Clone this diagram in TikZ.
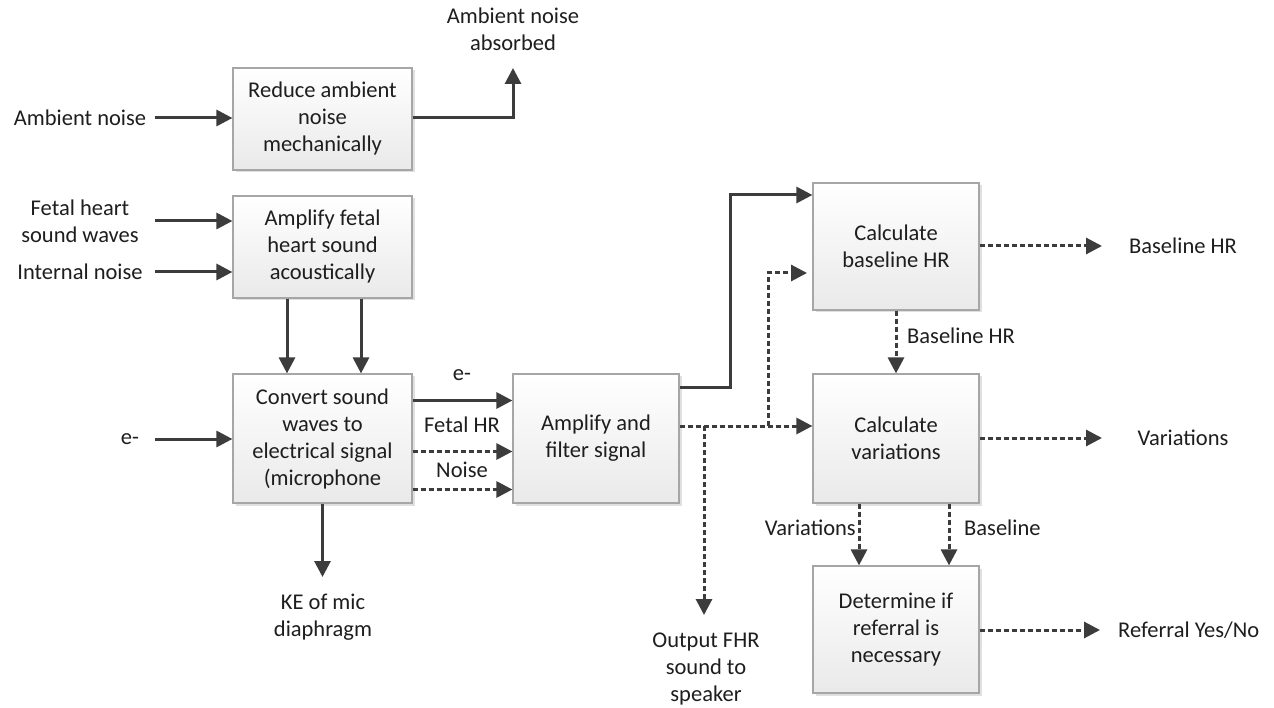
\documentclass[tikz,border=0pt]{standalone}
\usepackage{fontspec}
\setmainfont{Carlito}
\usetikzlibrary{arrows.meta,shadows}
\definecolor{ln}{HTML}{3C3C3C}
\definecolor{bd}{HTML}{A6A6A6}
\definecolor{tx}{HTML}{1E1E1E}
\begin{document}
\begin{tikzpicture}[x=1pt,y=-1pt,
  every node/.style={font=\fontsize{22.5}{27}\selectfont, text=tx},
  box/.style={draw=bd, line width=1.2pt, top color=white, bottom color=gray!17, align=center, inner sep=2pt,
    drop shadow={shadow xshift=2.5pt,shadow yshift=-2.5pt,fill=black,opacity=0.12}},
  lbl/.style={align=center, inner sep=1pt},
  arr/.style={draw=ln, line width=3pt, -{Triangle[length=16pt,width=16pt]}},
  darr/.style={arr, dash pattern=on 5pt off 3pt},
]
\useasboundingbox[fill=white] (0,0) rectangle (1274,708);

% boxes
\node[box, minimum width=179pt, minimum height=102pt] (b1) at (322.5,119) {Reduce ambient\\noise\\mechanically};
\node[box, minimum width=179pt, minimum height=102pt] (b2) at (322.5,247) {Amplify fetal\\heart sound\\acoustically};
\node[box, minimum width=179pt, minimum height=129pt] (b3) at (322.5,438.5) {Convert sound\\waves to\\electrical signal\\(microphone};
\node[box, minimum width=166pt, minimum height=129pt] (b4) at (596,438.5) {Amplify and\\filter signal};
\node[box, minimum width=166pt, minimum height=127pt] (b5) at (896,246.5) {Calculate\\baseline HR};
\node[box, minimum width=166pt, minimum height=129pt] (b6) at (896,438.5) {Calculate\\variations};
\node[box, minimum width=166pt, minimum height=127pt] (b7) at (896,629.5) {Determine if\\referral is\\necessary};

% labels
\node[lbl] (lAmb) at (80,118) {Ambient noise};
\node[lbl] (lFetal) at (80,221.5) {Fetal heart\\sound waves};
\node[lbl] (lInt) at (80,272) {Internal noise};
\node[lbl] (lE) at (130,439) {e-};
\node[lbl] (lAbs) at (513,29.5) {Ambient noise\\absorbed};
\node[lbl] (lKE) at (323,617) {KE of mic\\diaphragm};
\node[lbl] (lOut) at (706,669) {Output FHR\\sound to\\speaker};
\node[lbl] (lBHR) at (1183,246) {Baseline HR};
\node[lbl] (lVar) at (1183,438) {Variations};
\node[lbl, anchor=west] (lRef) at (1117,630) {Referral Yes/No};
\node[lbl] (lEm) at (462,375) {e-};
\node[lbl] (lFHR) at (462,425) {Fetal HR};
\node[lbl] (lNoise) at (462,470) {Noise};
\node[lbl, anchor=east] (lVar2) at (857,528) {Variations};
\node[lbl, anchor=west] (lBase) at (963,528) {Baseline};
\node[lbl, anchor=west] (lBHR2) at (906,336) {Baseline HR};

% coordinates
\coordinate (sAmb) at (155,118);
\coordinate (sFetal) at (155,221);
\coordinate (sInt) at (155,272);
\coordinate (sE) at (155,439);
\coordinate (tAbs) at (513,68);
\coordinate (tKE) at (322.5,577);
\coordinate (jS) at (730,387);
\coordinate (jD) at (700,426);
\coordinate (jUp) at (768,426);
\coordinate (jDown) at (704,426);
\coordinate (tB5) at (807,273);
\coordinate (tOut) at (704,615);
\coordinate (tBHR) at (1102,246);
\coordinate (tVar) at (1102,438);
\coordinate (tRef) at (1100,630);

% connectors
\draw[arr] (sAmb) -- (b1.west |- sAmb);
\draw[arr] (b1.east |- sAmb) -| (tAbs);
\draw[arr] (sFetal) -- (b2.west |- sFetal);
\draw[arr] (sInt) -- (b2.west |- sInt);
\draw[arr] (sE) -- (b3.west |- sE);
\draw[arr] ([xshift=-35.5pt]b2.south) -- ([xshift=-35.5pt]b3.north);
\draw[arr] ([xshift=38.5pt]b2.south) -- ([xshift=38.5pt]b3.north);
\draw[arr] (b3.south) -- (tKE);
\draw[arr] ([yshift=38pt]b3.east) -- ([yshift=38pt]b4.west);
\draw[darr] ([yshift=-13pt]b3.east) -- ([yshift=-13pt]b4.west);
\draw[darr] ([yshift=-51pt]b3.east) -- ([yshift=-51pt]b4.west);
\draw[arr] (b4.east |- jS) -- (jS) |- ([yshift=51.5pt]b5.west);
\draw[darr] (b4.east |- jD) -- (b6.west |- jD);
\draw[darr] (jUp) |- (tB5);
\draw[darr] (jDown) -- (tOut);
\draw[darr] (b5.east |- tBHR) -- (tBHR);
\draw[darr] (b5.south) -- (b6.north);
\draw[darr] (b6.east |- tVar) -- (tVar);
\draw[darr] ([xshift=-37pt]b6.south) -- ([xshift=-37pt]b7.north);
\draw[darr] ([xshift=53pt]b6.south) -- ([xshift=53pt]b7.north);
\draw[darr] (b7.east |- tRef) -- (tRef);
\end{tikzpicture}
\end{document}
